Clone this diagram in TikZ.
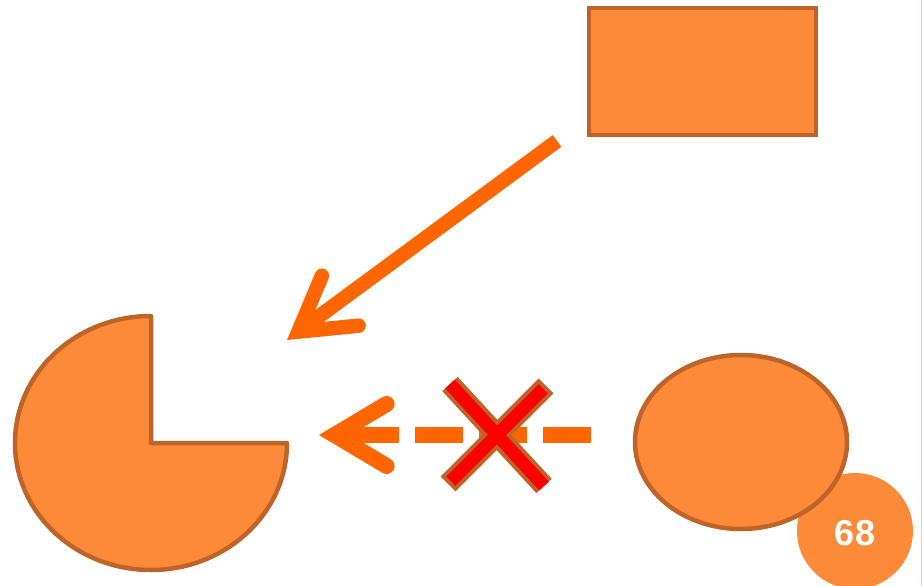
\documentclass[tikz,border=0pt]{standalone}
\usepackage{fontspec}
\setmainfont{Liberation Sans}
\usetikzlibrary{arrows.meta,shapes.geometric}
\definecolor{shapefill}{HTML}{FD8A38}
\definecolor{shapeline}{HTML}{BE6428}
\definecolor{arroworange}{HTML}{FF6600}
\definecolor{crossred}{HTML}{FF0000}
\definecolor{pageedge}{HTML}{F8C8B0}

\begin{document}
\begin{tikzpicture}[x=1pt, y=-1pt,
  shapebox/.style={draw=shapeline, fill=shapefill, line width=4.5pt, inner sep=0pt},
  barb/.style={-{Straight Barb[length=52pt, width=62pt, line cap=round, line join=miter]}}]
\useasboundingbox (0,0) rectangle (922,586);
\draw[pageedge, line width=1pt] (921,0) -- (921,586);

% shapes
\node[shapebox, minimum width=227pt, minimum height=127pt] (box) at (702.5,71.5) {};
\coordinate (pie) at (151,443);
\draw[shapebox, line join=round] (pie) -- ++(136,0)
  arc[start angle=0, end angle=270, x radius=136, y radius=127] -- cycle;
\node[circle, fill=shapefill, minimum size=116pt] (pagenum) at (855,531) {};
\node[text=white, font=\bfseries\fontsize{36}{40}\selectfont] at ([yshift=-2pt]pagenum.center) {68};
\node[shapebox, ellipse, minimum width=212pt, minimum height=174pt] (oval) at (741,442) {};

% arrows
\coordinate (from) at (557,141);
\coordinate (to) at (287,340);
\draw[barb, arroworange, line width=14.5pt] (from) -- (to);
\coordinate (dfrom) at (591,435);
\coordinate (dto) at (319,435);
\draw[barb, arroworange, line width=16pt, dash pattern=on 48pt off 16pt] (dfrom) -- (dto);

% cross over the dashed arrow
\coordinate (c1) at (450,384);
\coordinate (c2) at (544,486);
\coordinate (c3) at (546,386);
\coordinate (c4) at (448,484);
\draw[shapeline, line width=21pt] (c1) -- (c2) (c3) -- (c4);
\draw[crossred, line width=13pt, shorten <=4pt, shorten >=4pt] (c1) -- (c2) (c3) -- (c4);
\end{tikzpicture}
\end{document}
